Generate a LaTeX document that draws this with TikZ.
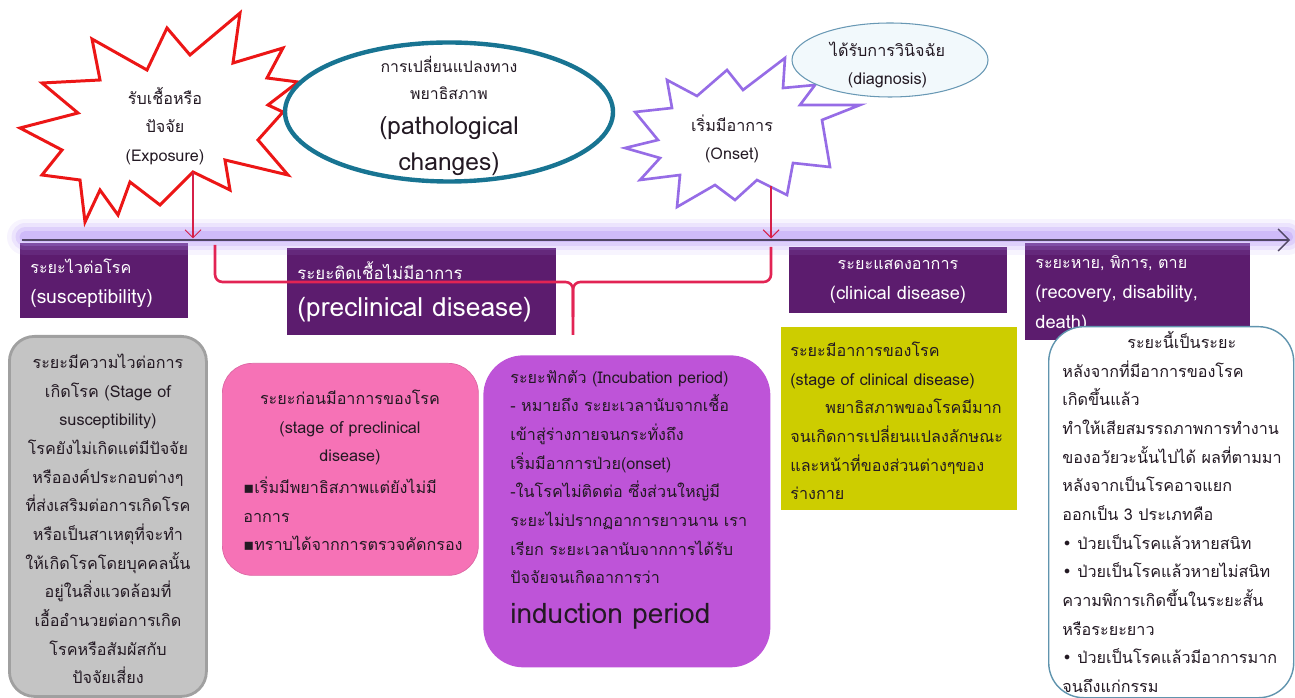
\documentclass[tikz,border=0pt]{standalone}
\usepackage{fontspec}
\setmainfont{Loma}[Script=Thai]
\newfontfamily\symfont{DejaVu Sans}
\usepackage{tikz}
\usepackage{xcolor}
\usetikzlibrary{calc}
\usetikzlibrary{positioning}
\usetikzlibrary{shapes.geometric}
\usetikzlibrary{arrows.meta}

\definecolor{phasepurple}{RGB}{92,28,110}
\definecolor{glowlilac}{RGB}{178,146,246}
\definecolor{bracered}{RGB}{226,36,84}
\definecolor{arrowred}{RGB}{214,32,72}
\definecolor{axisgrey}{RGB}{80,70,100}
\definecolor{ovalteal}{RGB}{24,116,146}
\definecolor{diagline}{RGB}{104,152,180}
\definecolor{diagfill}{RGB}{242,249,252}
\definecolor{boomred}{RGB}{236,22,22}
\definecolor{boomviolet}{RGB}{150,108,230}
\definecolor{greyfill}{RGB}{196,196,196}
\definecolor{greyline}{RGB}{160,160,160}
\definecolor{pinkfill}{RGB}{246,114,182}
\definecolor{violetfill}{RGB}{190,84,216}
\definecolor{olivefill}{RGB}{205,205,0}
\definecolor{whiteline}{RGB}{96,148,174}
\definecolor{inkdark}{RGB}{35,25,35}

\newcommand{\latinhead}{\fontsize{10.4}{17}\selectfont}

\tikzset{
  txt/.style={font=\fontsize{9.2}{16.3}\selectfont, text=inkdark, inner sep=0pt},
  headtxt/.style={font=\fontsize{9.2}{17}\selectfont, text=white, inner sep=0pt},
  bigtxt/.style={font=\fontsize{14}{20.4}\selectfont, text=inkdark, inner sep=0pt},
  phasebox/.style={fill=phasepurple, inner sep=0pt, anchor=north west},
  stagebox/.style={inner sep=0pt, anchor=north west},
  thinarrow/.style={arrowred, line width=0.6pt, -{Straight Barb[length=1.6mm]}},
}

\begin{document}
\begin{tikzpicture}
\useasboundingbox (0,0) rectangle (25.9,13.94);

\node[phasebox, minimum width=3.36cm, minimum height=1.5cm] (suscbox) at (0.40,9.08) {};
\node[phasebox, minimum width=5.38cm, minimum height=1.74cm] (preclbox) at (5.74,8.98) {};
\node[phasebox, minimum width=4.36cm, minimum height=1.32cm] (clinbox) at (15.78,9.0) {};
\node[phasebox, minimum width=4.5cm, minimum height=1.94cm] (recovbox) at (20.5,9.08) {};

\foreach \w/\o in {0.72/0.10,0.54/0.16,0.38/0.24,0.22/0.34}
  \draw[glowlilac, line width=\w cm, opacity=\o, line cap=round] (0.5,9.2) -- (25.75,9.2);
\coordinate (axisstart) at (0.44,9.14);
\coordinate (axisend) at (25.8,9.14);
\draw[axisgrey, line width=0.8pt, -{Straight Barb[length=2.2mm]}] (axisstart) -- (axisend);

\draw[boomred, line width=1.7pt, fill=white] (0.40,11.38) -- (1.56,11.68) -- (0.84,12.28) -- (2.00,12.34)
  -- (1.84,13.16) -- (2.94,12.54) -- (3.34,13.38) -- (3.80,12.84) -- (4.80,13.68) -- (4.66,12.68)
  -- (5.66,12.98) -- (5.34,12.38) -- (5.96,12.30) -- (5.36,11.84) -- (5.66,11.70) -- (5.16,11.14)
  -- (5.76,10.44) -- (4.50,10.74) -- (4.60,10.14) -- (3.86,10.50) -- (3.20,9.84) -- (2.60,10.30)
  -- (2.36,9.64) -- (2.00,10.14) -- (1.70,9.50) -- (1.60,10.34) -- (0.84,10.44) -- (1.24,10.94) -- cycle;
\node[ellipse, draw=ovalteal, line width=2.5pt, fill=white, minimum width=6.56cm, minimum height=2.78cm, inner sep=0pt] (patho) at (8.98,11.70) {};

\draw[boomviolet, line width=1.5pt, fill=white] (12.50,10.98) -- (13.16,11.14) -- (12.70,11.70) -- (13.44,11.78)
  -- (13.34,12.34) -- (13.94,12.02) -- (14.54,12.54) -- (14.86,12.14) -- (15.70,12.78) -- (15.66,12.18)
  -- (16.30,12.24) -- (16.00,11.84) -- (17.20,11.84) -- (16.44,11.54) -- (16.60,10.60) -- (15.86,10.68)
  -- (15.74,10.04) -- (15.14,10.34) -- (14.70,9.94) -- (14.30,10.24) -- (13.54,9.80) -- (13.60,10.44)
  -- (12.80,10.34) -- (13.20,10.78) -- cycle;
\node[ellipse, draw=diagline, line width=0.6pt, fill=diagfill, minimum width=3.92cm, minimum height=1.48cm, inner sep=0pt] (diag) at (17.8,12.74) {};

\coordinate (expofoot) at (3.86,10.50);
\coordinate (expohit) at (3.86,9.17);
\draw[thinarrow] (expofoot) -- (expohit);
\coordinate (onsetfoot) at (15.42,10.22);
\coordinate (onsethit) at (15.42,9.17);
\draw[thinarrow] (onsetfoot) -- (onsethit);

\draw[bracered, line width=1.5pt, rounded corners=0.15cm] (4.30,9.04) -- (4.30,8.30) -- (11.46,8.30) -- (11.46,7.24);
\draw[bracered, line width=1.5pt, rounded corners=0.15cm] (15.42,9.0) -- (15.42,8.30) -- (11.46,8.30) -- (11.46,7.6);

\node[txt, align=center] (expotext) at (3.30,11.42) {รับเชื้อหรือ\\ปัจจัย\\(Exposure)};
\node[txt, font=\fontsize{9}{15}\selectfont, align=center] (pathothai) at (8.98,12.38) {การเปลี่ยนแปลงทาง\\พยาธิสภาพ};
\node[bigtxt, align=center] (pathoeng) at (8.98,11.02) {(pathological\\changes)};
\node[txt, align=center] (onsettext) at (14.64,11.16) {เริ่มมีอาการ\\(Onset)};
\node[txt, align=center] (diagtext) at (17.75,12.64) {ได้รับการวินิจฉัย\\(diagnosis)};

\node[headtxt, align=left, anchor=west] (susctext) at (0.6,8.28) {ระยะไวต่อโรค\\{\fontsize{11}{17}\selectfont(susceptibility)}};
\node[headtxt, font=\fontsize{9.6}{17}\selectfont, anchor=west] (precltitle) at (5.94,8.52) {ระยะติดเชื้อไม่มีอาการ};
\node[bigtxt, font=\fontsize{15}{20}\selectfont, text=white, anchor=west] (preclname) at (5.94,7.74) {(preclinical disease)};
\node[headtxt, align=center] (clintext) at (17.96,8.30) {ระยะแสดงอาการ\\{\latinhead(clinical disease)}};
\node[headtxt, align=left, anchor=west] (recovtext) at (20.70,8.06) {ระยะหาย, พิการ, ตาย\\{\latinhead(recovery, disability,}\\{\latinhead death)}};

\node[stagebox, fill=greyfill, draw=greyline, line width=1.6pt, rounded corners=0.5cm, minimum width=3.94cm, minimum height=7.2cm] (greybox) at (0.16,7.24) {};
\node[stagebox, fill=pinkfill, draw=pinkfill!90!black, line width=0.4pt, rounded corners=0.6cm, minimum width=5.12cm, minimum height=4.24cm] (pinkbox) at (4.44,6.68) {};
\node[stagebox, fill=violetfill, rounded corners=0.8cm, minimum width=5.74cm, minimum height=6.24cm] (incubbox) at (9.66,6.84) {};
\node[stagebox, fill=olivefill, minimum width=4.72cm, minimum height=3.66cm] (olivebox) at (15.62,7.40) {};
\node[stagebox, fill=white, draw=whiteline, line width=0.8pt, rounded corners=0.7cm, minimum width=4.9cm, minimum height=7.42cm] (afterbox) at (20.96,7.42) {};

\node[txt, align=center] (greytext) at (2.16,3.56) {ระยะมีความไวต่อการ\\เกิดโรค (Stage of\\susceptibility)\\โรคยังไม่เกิดแต่มีปัจจัย\\หรือองค์ประกอบต่างๆ\\ที่ส่งเสริมต่อการเกิดโรค\\หรือเป็นสาเหตุที่จะทำ\\ให้เกิดโรคโดยบุคคลนั้น\\อยู่ในสิ่งแวดล้อมที่\\เอื้ออำนวยต่อการเกิด\\โรคหรือสัมผัสกับ\\ปัจจัยเสี่ยง};
\node[txt, align=center] (pinkhead) at (7.0,5.39) {ระยะก่อนมีอาการของโรค\\(stage of preclinical\\disease)};
\node[txt, align=left, anchor=west] (pinklist) at (4.86,3.66) {{\symfont ▪}เริ่มมีพยาธิสภาพแต่ยังไม่มี\\อาการ\\{\symfont ▪}ทราบได้จากการตรวจคัดกรอง};
\node[txt, align=left, anchor=west] (incubtext) at (10.2,4.40) {ระยะฟักตัว (Incubation period)\\- หมายถึง ระยะเวลานับจากเชื้อ\\เข้าสู่ร่างกายจนกระทั่งถึง\\เริ่มมีอาการป่วย(onset)\\-ในโรคไม่ติดต่อ ซึ่งส่วนใหญ่มี\\ระยะไม่ปรากฏอาการยาวนาน เรา\\เรียก ระยะเวลานับจากการได้รับ\\ปัจจัยจนเกิดอาการว่า};
\node[bigtxt, font=\fontsize{16}{20}\selectfont, anchor=west] (inductext) at (10.2,1.62) {induction period};
\node[txt, align=left, anchor=west] (olivetext) at (15.80,5.52) {ระยะมีอาการของโรค\\(stage of clinical disease)\\\hspace*{0.7cm}พยาธิสภาพของโรคมีมาก\\จนเกิดการเปลี่ยนแปลงลักษณะ\\และหน้าที่ของส่วนต่างๆของ\\ร่างกาย};
\node[txt, align=left, anchor=west] (aftertext) at (21.24,3.70) {\hspace*{1.3cm}ระยะนี้เป็นระยะ\\หลังจากที่มีอาการของโรค\\เกิดขึ้นแล้ว\\ทำให้เสียสมรรถภาพการทำงาน\\ของอวัยวะนั้นไปได้ ผลที่ตามมา\\หลังจากเป็นโรคอาจแยก\\ออกเป็น 3 ประเภทคือ\\{\symfont •} ป่วยเป็นโรคแล้วหายสนิท\\{\symfont •} ป่วยเป็นโรคแล้วหายไม่สนิท\\ความพิการเกิดขึ้นในระยะสั้น\\หรือระยะยาว\\{\symfont •} ป่วยเป็นโรคแล้วมีอาการมาก\\จนถึงแก่กรรม};

\end{tikzpicture}
\end{document}
